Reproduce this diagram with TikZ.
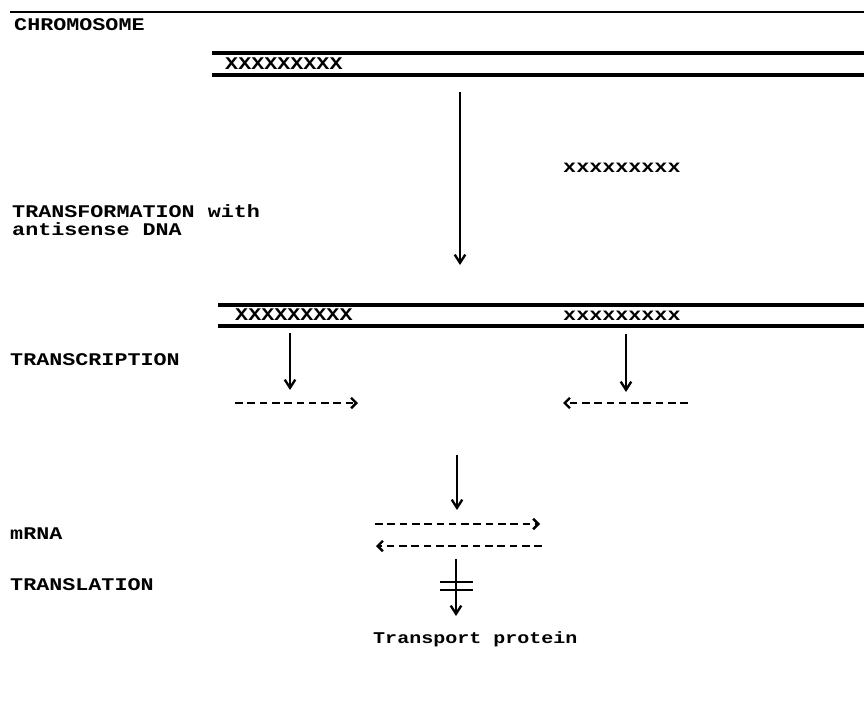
\documentclass[tikz,border=0pt]{standalone}
\usepackage{fontspec}
\setmonofont{Liberation Mono}
\newfontfamily\typefont[FakeStretch=1.22]{Liberation Mono}
\usetikzlibrary{positioning, arrows.meta}

\begin{document}
\begin{tikzpicture}[
    x=0.03cm, y=-0.03cm,
    >={Straight Barb[length=7pt, width=9pt, line width=2pt]},
    label/.style={anchor=west, inner sep=0pt, font=\typefont\bfseries\fontsize{15.2}{17}\selectfont},
    strand/.style={line width=2.6pt},
    flow/.style={->, line width=1.8pt},
    rna/.style={-{Straight Barb[length=4.5pt, width=9pt, line width=2pt]}, line width=2pt, dash pattern=on 6.5pt off 4pt}
]
\useasboundingbox (0,0) rectangle (864,701);

% Chromosome
\draw[line width=2.2pt] (10,12) -- (864,12);
\node[label] (chrom) at (14,25) {CHROMOSOME};
\draw[strand] (212,53) -- (864,53);
\draw[strand] (212,75) -- (864,75);
\node[label] (gene) at (225,64) {XXXXXXXXX};

% Transformation
\node[label] (anti) at (563,168) {xxxxxxxxx};
\node[label] (trf) at (12,211) {TRANSFORMATION with};
\node[label] (trfb) at (12,229) {antisense DNA};
\coordinate (t1) at (460,92);
\coordinate (t2) at (460,265);
\draw[flow] (t1) -- (t2);

% Transformed chromosome
\draw[strand] (218,305) -- (864,305);
\draw[strand] (218,326) -- (864,326);
\node[label] (gene2) at (235,315) {XXXXXXXXX};
\node[label] (anti2) at (563,316) {xxxxxxxxx};

% Transcription
\node[label] (tsc) at (10,360) {TRANSCRIPTION};
\coordinate (s1) at (290,333);
\coordinate (s2) at (290,390);
\coordinate (a1) at (626,334);
\coordinate (a2) at (626,392);
\draw[flow] (s1) -- (s2);
\draw[flow] (a1) -- (a2);
\coordinate (sr1) at (235,403);
\coordinate (sr2) at (358,403);
\coordinate (ar1) at (688,403);
\coordinate (ar2) at (563,403);
\draw[rna] (sr1) -- (sr2);
\draw[rna] (ar1) -- (ar2);

% mRNA hybrid
\coordinate (m1) at (457,455);
\coordinate (m2) at (457,510);
\draw[flow] (m1) -- (m2);
\node[label] (mrna) at (10,534) {mRNA};
\coordinate (h1) at (375,524);
\coordinate (h2) at (540,524);
\coordinate (h3) at (542,546);
\coordinate (h4) at (376,546);
\draw[rna] (h1) -- (h2);
\draw[rna] (h3) -- (h4);

% Translation blocked
\node[label] (tsl) at (10,585) {TRANSLATION};
\coordinate (p1) at (456,559);
\node[label, font=\typefont\bfseries\fontsize{14}{17}\selectfont] (prot) at (373,639) {Transport protein};
\draw[flow] (p1) -- (456,616);
\draw[line width=1.8pt] (440,582) -- (473,582);
\draw[line width=1.8pt] (440,590) -- (473,590);

\end{tikzpicture}
\end{document}
